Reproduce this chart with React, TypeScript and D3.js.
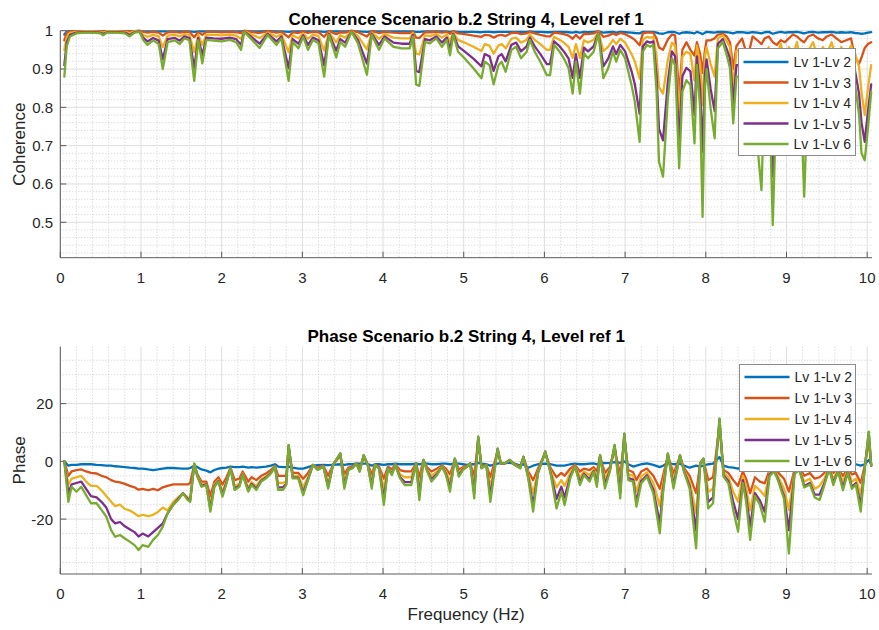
import React from 'react';
import * as d3 from 'd3';

const width = 879;
const height = 630;

// ---- coherence panel data ----
const cohFreq = [
  0.05, 0.08, 0.12, 0.2, 0.3, 0.4, 0.5, 0.53, 0.58, 0.7,
  0.8, 0.86, 0.92, 0.98, 1.03, 1.08, 1.15, 1.22, 1.27, 1.33,
  1.42, 1.48, 1.54, 1.6, 1.66, 1.71, 1.76, 1.81, 1.9, 2.0,
  2.1, 2.18, 2.24, 2.28, 2.36, 2.47, 2.57, 2.68, 2.74, 2.83,
  2.88, 2.95, 3.01, 3.07, 3.13, 3.2, 3.27, 3.33, 3.42, 3.47,
  3.53, 3.61, 3.69, 3.8, 3.86, 3.95, 4.02, 4.13, 4.23, 4.33,
  4.37, 4.41, 4.45, 4.52, 4.58, 4.66, 4.73, 4.79, 4.83, 4.87,
  4.93, 5.01, 5.12, 5.22, 5.26, 5.32, 5.37, 5.43, 5.47, 5.52,
  5.59, 5.65, 5.71, 5.78, 5.82, 5.88, 5.95, 6.03, 6.07, 6.12,
  6.19, 6.24, 6.3, 6.35, 6.39, 6.44, 6.49, 6.54, 6.61, 6.67,
  6.73, 6.79, 6.85, 6.89, 6.94, 7.0, 7.08, 7.12, 7.18, 7.22,
  7.27, 7.31, 7.35, 7.39, 7.42, 7.47, 7.53, 7.58, 7.62, 7.67,
  7.71, 7.76, 7.81, 7.86, 7.89, 7.93, 7.96, 7.99, 8.01, 8.06,
  8.11, 8.15, 8.21, 8.26, 8.3, 8.34, 8.38, 8.45, 8.52, 8.58,
  8.64, 8.69, 8.73, 8.78, 8.83, 8.88, 8.93, 8.98, 9.03, 9.08,
  9.13, 9.18, 9.22, 9.27, 9.33, 9.39, 9.45, 9.5, 9.56, 9.62,
  9.68, 9.74, 9.8, 9.85, 9.9, 9.93, 9.97, 10.01, 10.05,
];

const cohLv2 = [
  0.99, 0.998, 0.999, 0.999, 0.999, 0.999, 0.999, 0.999, 0.999, 0.999,
  0.999, 0.999, 0.999, 0.999, 0.998, 0.998, 0.998, 0.998, 0.998, 0.998,
  0.998, 0.998, 0.998, 0.998, 0.997, 0.998, 0.998, 0.998, 0.998, 0.998,
  0.998, 0.998, 0.998, 0.999, 0.998, 0.998, 0.999, 0.998, 0.998, 0.997,
  0.998, 0.998, 0.998, 0.998, 0.998, 0.998, 0.997, 0.998, 0.998, 0.998,
  0.998, 0.999, 0.998, 0.997, 0.998, 0.998, 0.998, 0.998, 0.998, 0.998,
  0.998, 0.997, 0.997, 0.998, 0.998, 0.998, 0.998, 0.998, 0.997, 0.998,
  0.997, 0.997, 0.997, 0.996, 0.997, 0.997, 0.996, 0.997, 0.997, 0.997,
  0.997, 0.997, 0.997, 0.997, 0.998, 0.997, 0.997, 0.996, 0.996, 0.997,
  0.997, 0.997, 0.996, 0.995, 0.997, 0.995, 0.997, 0.996, 0.997, 0.998,
  0.995, 0.996, 0.997, 0.995, 0.997, 0.996, 0.995, 0.994, 0.993, 0.997,
  0.997, 0.997, 0.997, 0.995, 0.993, 0.992, 0.996, 0.997, 0.996, 0.992,
  0.995, 0.996, 0.995, 0.993, 0.997, 0.994, 0.991, 0.995, 0.997, 0.996,
  0.995, 0.997, 0.997, 0.996, 0.995, 0.993, 0.996, 0.996, 0.994, 0.996,
  0.995, 0.993, 0.996, 0.997, 0.992, 0.995, 0.997, 0.995, 0.996, 0.996,
  0.997, 0.995, 0.993, 0.996, 0.997, 0.995, 0.996, 0.996, 0.997, 0.995,
  0.996, 0.995, 0.996, 0.994, 0.993, 0.992, 0.993, 0.995, 0.996,
];

const cohLv3 = [
  0.975, 0.995, 0.998, 0.999, 0.999, 0.999, 0.999, 0.998, 0.999, 0.999,
  0.999, 0.998, 0.999, 1.0, 0.997, 0.995, 0.997, 0.995, 0.987, 0.996,
  0.997, 0.995, 0.997, 0.997, 0.983, 0.997, 0.989, 0.997, 0.997, 0.996,
  0.997, 0.996, 0.994, 1.0, 0.997, 0.994, 0.999, 0.995, 0.997, 0.983,
  0.996, 0.994, 0.998, 0.994, 0.997, 0.996, 0.984, 0.999, 0.991, 0.996,
  0.995, 1.0, 0.996, 0.985, 0.999, 0.994, 0.997, 0.995, 0.994, 0.994,
  0.998, 0.982, 0.981, 0.996, 0.996, 0.997, 0.995, 0.997, 0.992, 0.999,
  0.993, 0.991, 0.987, 0.984, 0.989, 0.988, 0.982, 0.988, 0.989, 0.986,
  0.994, 0.995, 0.991, 0.993, 0.997, 0.993, 0.989, 0.985, 0.985, 0.995,
  0.993, 0.991, 0.987, 0.979, 0.989, 0.979, 0.992, 0.991, 0.993, 0.999,
  0.984, 0.987, 0.993, 0.989, 0.994, 0.991, 0.982, 0.976, 0.962, 0.993,
  0.995, 0.995, 0.995, 0.979, 0.956, 0.95, 0.977, 0.99, 0.988, 0.83,
  0.95, 0.97, 0.95, 0.935, 0.97, 0.94, 0.89, 0.95, 0.975, 0.975,
  0.98, 0.99, 0.992, 0.985, 0.97, 0.9, 0.96, 0.98, 0.93, 0.985,
  0.975, 0.965, 0.98, 0.985, 0.97, 0.963, 0.975, 0.97, 0.98, 0.99,
  0.985, 0.975, 0.97, 0.985, 0.99, 0.98, 0.975, 0.985, 0.99, 0.98,
  0.97, 0.975, 0.98, 0.93, 0.914, 0.93, 0.955, 0.965, 0.97,
];

const cohLv4 = [
  0.95, 0.983, 0.994, 0.997, 0.998, 0.998, 0.997, 0.995, 0.998, 0.998,
  0.997, 0.994, 0.998, 0.999, 0.989, 0.984, 0.989, 0.985, 0.957, 0.987,
  0.989, 0.985, 0.991, 0.989, 0.944, 0.989, 0.963, 0.99, 0.989, 0.988,
  0.99, 0.987, 0.979, 0.999, 0.991, 0.981, 0.995, 0.984, 0.991, 0.944,
  0.988, 0.98, 0.993, 0.979, 0.99, 0.986, 0.948, 0.995, 0.97, 0.988,
  0.982, 0.999, 0.986, 0.951, 0.995, 0.979, 0.991, 0.982, 0.98, 0.98,
  0.994, 0.94, 0.938, 0.988, 0.986, 0.991, 0.982, 0.99, 0.972, 0.995,
  0.976, 0.969, 0.958, 0.947, 0.965, 0.961, 0.94, 0.961, 0.965, 0.954,
  0.979, 0.982, 0.969, 0.976, 0.99, 0.976, 0.965, 0.95, 0.95, 0.984,
  0.976, 0.969, 0.958, 0.929, 0.965, 0.929, 0.975, 0.969, 0.976, 0.997,
  0.947, 0.958, 0.976, 0.965, 0.979, 0.969, 0.939, 0.92, 0.875, 0.976,
  0.984, 0.982, 0.984, 0.932, 0.853, 0.836, 0.924, 0.969, 0.961, 0.78,
  0.932, 0.945, 0.939, 0.87, 0.961, 0.913, 0.806, 0.935, 0.957, 0.913,
  0.88, 0.98, 0.988, 0.972, 0.958, 0.85, 0.948, 0.948, 0.914, 0.94,
  0.87, 0.82, 0.935, 0.957, 0.78, 0.935, 0.966, 0.914, 0.957, 0.935,
  0.97, 0.914, 0.814, 0.948, 0.97, 0.927, 0.957, 0.94, 0.97, 0.923,
  0.957, 0.935, 0.961, 0.94, 0.905, 0.84, 0.78, 0.85, 0.91,
];

const cohLv5 = [
  0.91, 0.97, 0.989, 0.995, 0.996, 0.996, 0.995, 0.991, 0.996, 0.996,
  0.995, 0.989, 0.996, 0.998, 0.981, 0.972, 0.981, 0.974, 0.925, 0.978,
  0.981, 0.974, 0.985, 0.981, 0.902, 0.981, 0.936, 0.982, 0.98, 0.979,
  0.982, 0.978, 0.963, 0.998, 0.985, 0.966, 0.992, 0.972, 0.985, 0.902,
  0.978, 0.966, 0.988, 0.963, 0.982, 0.975, 0.91, 0.992, 0.948, 0.978,
  0.969, 0.998, 0.975, 0.914, 0.992, 0.963, 0.985, 0.969, 0.966, 0.966,
  0.989, 0.895, 0.892, 0.978, 0.975, 0.985, 0.969, 0.982, 0.952, 0.992,
  0.959, 0.946, 0.927, 0.907, 0.939, 0.933, 0.895, 0.933, 0.939, 0.92,
  0.963, 0.969, 0.946, 0.959, 0.982, 0.959, 0.939, 0.913, 0.913, 0.972,
  0.959, 0.946, 0.927, 0.877, 0.939, 0.877, 0.956, 0.946, 0.959, 0.995,
  0.907, 0.927, 0.959, 0.939, 0.963, 0.946, 0.894, 0.861, 0.783, 0.959,
  0.972, 0.969, 0.972, 0.881, 0.744, 0.714, 0.867, 0.946, 0.933, 0.71,
  0.881, 0.903, 0.894, 0.78, 0.933, 0.848, 0.684, 0.888, 0.925, 0.848,
  0.79, 0.966, 0.978, 0.952, 0.927, 0.81, 0.91, 0.91, 0.85, 0.895,
  0.775, 0.69, 0.888, 0.925, 0.62, 0.888, 0.94, 0.85, 0.925, 0.888,
  0.948, 0.85, 0.675, 0.91, 0.948, 0.873, 0.925, 0.895, 0.948, 0.865,
  0.925, 0.888, 0.933, 0.895, 0.835, 0.76, 0.71, 0.79, 0.86,
];

const cohLv6 = [
  0.88, 0.96, 0.985, 0.993, 0.995, 0.995, 0.993, 0.988, 0.995, 0.995,
  0.993, 0.985, 0.995, 0.997, 0.975, 0.963, 0.975, 0.965, 0.9, 0.97,
  0.975, 0.965, 0.98, 0.975, 0.869, 0.975, 0.915, 0.976, 0.974, 0.972,
  0.976, 0.97, 0.95, 0.997, 0.98, 0.955, 0.989, 0.963, 0.98, 0.869,
  0.971, 0.954, 0.984, 0.95, 0.976, 0.967, 0.88, 0.989, 0.93, 0.971,
  0.958, 0.997, 0.967, 0.885, 0.989, 0.95, 0.98, 0.958, 0.954, 0.954,
  0.985, 0.86, 0.856, 0.971, 0.967, 0.98, 0.958, 0.976, 0.936, 0.989,
  0.945, 0.928, 0.902, 0.876, 0.919, 0.91, 0.86, 0.91, 0.919, 0.893,
  0.95, 0.958, 0.928, 0.945, 0.976, 0.945, 0.919, 0.884, 0.884, 0.963,
  0.945, 0.928, 0.902, 0.836, 0.919, 0.836, 0.941, 0.928, 0.945, 0.993,
  0.876, 0.902, 0.945, 0.919, 0.95, 0.928, 0.858, 0.815, 0.71, 0.945,
  0.963, 0.958, 0.963, 0.841, 0.658, 0.619, 0.823, 0.928, 0.91, 0.641,
  0.841, 0.871, 0.858, 0.706, 0.91, 0.797, 0.514, 0.85, 0.9, 0.797,
  0.719, 0.954, 0.971, 0.936, 0.902, 0.758, 0.88, 0.88, 0.8, 0.86,
  0.7, 0.584, 0.85, 0.9, 0.493, 0.85, 0.92, 0.8, 0.9, 0.85,
  0.93, 0.8, 0.567, 0.88, 0.93, 0.83, 0.9, 0.86, 0.93, 0.82,
  0.9, 0.85, 0.91, 0.86, 0.78, 0.68, 0.662, 0.745, 0.84,
];

// ---- phase panel data ----
const phaseFreq = [
  0.05, 0.1, 0.14, 0.2, 0.26, 0.32, 0.38, 0.45, 0.51, 0.57,
  0.63, 0.68, 0.74, 0.8, 0.86, 0.92, 0.97, 1.02, 1.09, 1.15,
  1.21, 1.27, 1.33, 1.4, 1.46, 1.52, 1.58, 1.61, 1.66, 1.7,
  1.75, 1.81, 1.86, 1.91, 1.96, 2.01, 2.06, 2.11, 2.16, 2.22,
  2.26, 2.33, 2.37, 2.43, 2.49, 2.55, 2.61, 2.66, 2.7, 2.76,
  2.8, 2.83, 2.88, 2.95, 3.01, 3.07, 3.13, 3.19, 3.26, 3.32,
  3.38, 3.47, 3.52, 3.57, 3.62, 3.67, 3.71, 3.76, 3.81, 3.86,
  3.9, 3.95, 4.01, 4.06, 4.11, 4.15, 4.21, 4.27, 4.35, 4.41,
  4.45, 4.5, 4.55, 4.6, 4.67, 4.73, 4.78, 4.83, 4.89, 4.94,
  4.99, 5.04, 5.08, 5.13, 5.18, 5.22, 5.28, 5.33, 5.42, 5.46,
  5.51, 5.57, 5.63, 5.7, 5.74, 5.8, 5.86, 5.92, 6.01, 6.08,
  6.15, 6.21, 6.25, 6.32, 6.38, 6.44, 6.49, 6.56, 6.61, 6.65,
  6.69, 6.75, 6.81, 6.87, 6.94, 6.99, 7.04, 7.1, 7.14, 7.2,
  7.27, 7.35, 7.43, 7.47, 7.53, 7.6, 7.68, 7.73, 7.8, 7.88,
  7.93, 7.97, 8.03, 8.09, 8.17, 8.22, 8.28, 8.34, 8.4, 8.46,
  8.5, 8.55, 8.61, 8.67, 8.73, 8.79, 8.85, 8.9, 8.97, 9.03,
  9.1, 9.16, 9.22, 9.29, 9.35, 9.41, 9.47, 9.53, 9.58, 9.64,
  9.7, 9.76, 9.81, 9.86, 9.92, 9.97, 10.02, 10.05,
];

const phaseLv2 = [
  0, -1.5, -1.2, -1.2, -1, -1, -1, -1.2, -1.3, -1.5,
  -1.5, -1.7, -1.8, -2, -2.2, -2.3, -2.5, -2.5, -2.8, -3,
  -2.8, -2.5, -2.3, -2.3, -2.4, -2.5, -2.5, -2.3, -1.5, -2,
  -2.8, -3.2, -3.8, -3, -2.5, -2.3, -2.2, -1.8, -2, -2,
  -1.8, -2.2, -2, -2.2, -2, -1.8, -1.5, -1, -1.8, -2,
  -2, -1.8, -2.2, -2.5, -2.5, -2, -1.5, -1.3, -1.2, -1.3,
  -1.2, -1, -1.2, -1, -1, -0.8, -0.8, -0.8, -0.8, -1.5,
  -1, -1, -1.2, -1, -1, -0.8, -1, -1, -1, -0.8,
  -1, -0.8, -0.8, -1, -1, -0.8, -0.8, -1, -0.8, -0.8,
  -1, -1.2, -1, -1, -0.5, -0.8, -1, -1.5, -0.8, -0.6,
  -0.6, -0.5, -0.8, -1.5, -1, -2.2, -1.5, -1, -0.8, -1,
  -1.5, -1.5, -1.5, -1, -0.8, -1, -1, -0.8, -0.7, -1,
  -0.5, -0.6, -0.5, -0.3, -0.5, 0, -1, -1.8, -1.5, -1,
  -0.7, -1.2, -2, -1.5, -0.5, -1, -0.8, -1.5, -2.2, -1.5,
  -1.8, -1.5, -1, -0.8, 1.5, -1.5, -2, -2.2, -2.5, -2,
  -2.2, -2.5, -2, -2.3, -2.5, -1.5, -1.8, -2, -2.2, -2.5,
  -1.8, -1.5, -2, -2, -1.8, -2, -1.5, -1, -1.5, -1.8,
  -2, -1.5, -1.2, -1, -1.5, -1, 0.5, -1,
];

const phaseLv3 = [
  0, -5, -3.5, -3, -2.8, -3.5, -4, -4.2, -5, -5.5,
  -6.5, -7, -7.3, -7.8, -8.5, -9, -9.8, -9.5, -10, -9.5,
  -10, -9, -8.5, -8, -8, -8, -8, -7.5, -1, -4.5,
  -7, -7, -12, -7, -5.5, -8, -5.5, -2.2, -6.5, -6,
  -3.5, -7, -5.5, -6.5, -5, -4.2, -3, -1.5, -5, -5,
  -5, 4.5, -4, -4, -6, -4, -1.3, -2.2, -1.5, -5,
  -1.2, 2, -4.5, -2.2, -1.8, -0.7, -2.3, 1.5, -1, -4.5,
  -1.1, -1.8, -6, -1.8, -2.8, -1, -3, -3.5, -3.5, -0.7,
  -5.5, 0.4, -2.2, -3.5, -2.5, -1.4, -2.5, -4.5, 0.6, -2.8,
  -2, -1.5, -0.8, -5, 7.5, -1.8, -1.1, -5.5, 3.5, -0.7,
  -0.7, 0.4, -1, -1.8, 1.3, -3.5, -6.5, -2.5, 2.8, -2.5,
  -5.5, -4, -5, -2.5, -1.2, -3.5, -2.5, -3, -2, -3.5,
  1.5, -4, -2, 4.5, -5, 8, -3, -3.8, -6.5, -3.5,
  -2.5, -5, -9.5, -5, 2, -4.2, 1.5, -2.3, -5, -11,
  -1, 0.5, -6.5, -5.5, 12, -3, -4, -6.5, -8.5, -3.5,
  -6, -11, -5.5, -7, -7.6, -3, -2.5, -4, -6, -10.5,
  -2.8, -2, -5, -4, -6, -5.5, -4, -1.5, -4, -2.5,
  -5, -2.5, -4.5, -4, -7.5, -1.5, 7, -1.5,
];

const phaseLv4 = [
  0, -8, -6, -5.5, -5, -7, -8.5, -8.5, -10, -12,
  -14, -15.5, -15, -16.5, -17, -18, -19, -18.5, -19, -18.5,
  -17.5, -16, -17, -14, -12.5, -11, -12.5, -13, -1, -5,
  -8, -7.8, -15, -8, -6.5, -10.5, -6.8, -2.3, -8.5, -7.8,
  -4.2, -9.2, -7.2, -8.6, -6.2, -5.2, -3.7, -1.7, -7.5, -7.5,
  -7, 5, -5, -5, -9, -5.5, -1.2, -2.7, -1.7, -7.5,
  -1.2, 2.5, -7, -2.7, -2.2, -0.7, -3, 2, -1.1, -6.8,
  -1.2, -2.2, -9.5, -2.2, -3.8, -1.1, -4.5, -5.5, -5.5, -0.7,
  -9, 0.5, -3, -5, -3.6, -1.6, -3.6, -7, 0.8, -4,
  -2.5, -1.7, -0.7, -8.5, 8, -2.2, -1.2, -9, 4, -0.7,
  -0.7, 0.5, -1.1, -2.2, 1.5, -4.5, -11, -3.4, 3.2, -3.5,
  -9, -6.5, -8.5, -4, -1.5, -5.5, -3.5, -4.8, -2.8, -6,
  1.9, -6, -2.8, 5, -8, 9, -4.5, -5, -10.5, -5.2,
  -3.8, -7.5, -15.5, -7.5, 2.4, -6.5, 1.9, -3, -7, -18,
  -0.8, 0.8, -10.5, -9.5, 13.5, -4, -5.5, -10.5, -14, -5,
  -9, -17, -8.5, -10, -12, -4, -3, -5.5, -9.5, -16.8,
  -3.5, -2.5, -7, -6, -9.5, -8.5, -6, -2, -6, -3,
  -7, -3, -7, -6, -11.5, -2, 9, -1.5,
];

const phaseLv5 = [
  0, -11, -8, -7.5, -7, -9.5, -12, -12.5, -14, -16,
  -20, -21.5, -21, -22.5, -23.5, -24.5, -26, -25, -26, -24.5,
  -23, -21.5, -18, -15, -13, -11, -13, -13.5, -1, -5.2,
  -8.5, -8, -16.5, -8.5, -6.8, -11.5, -7.2, -2.4, -9.4, -8.4,
  -4.5, -10, -7.8, -9.4, -6.7, -5.6, -4, -1.8, -9, -9,
  -7.8, 5.5, -5.6, -5.6, -10.8, -6.2, -1.2, -2.9, -1.8, -8.8,
  -1.2, 2.7, -8.6, -2.9, -2.3, -0.7, -3.4, 2.1, -1.2, -8.5,
  -1.2, -2.3, -13, -2.3, -4.4, -1.2, -5.4, -7.2, -7.2, -0.7,
  -11.8, 0.5, -3.4, -6.2, -4.3, -1.7, -4.3, -9.2, 0.9, -4.8,
  -2.8, -1.8, -0.7, -11, 8.4, -2.3, -1.2, -12, 4.3, -0.7,
  -0.7, 0.5, -1.2, -2.3, 1.6, -5.5, -15, -4, 3.4, -4.3,
  -13, -8.8, -12.5, -5.2, -1.7, -7.2, -4.3, -6.2, -3.3, -7.8,
  2.1, -8, -3.3, 5.5, -11, 9.5, -5.8, -6.3, -14, -6.8,
  -4.8, -9.8, -21.5, -9.8, 2.6, -8.3, 2.1, -3.4, -8.5, -24,
  -0.7, 0.9, -14, -12.5, 14.5, -4.8, -6.8, -14, -20, -6.5,
  -12, -22.6, -11, -13.5, -17.5, -4.5, -3.3, -6.5, -12, -23.8,
  -4, -2.8, -8.5, -7.5, -11.5, -11.5, -7.5, -2.3, -7.5, -3.3,
  -9, -3.5, -8.8, -7.5, -15, -2.5, 10, -1.5,
];

const phaseLv6 = [
  0, -14, -8.8, -10.5, -8.8, -11.7, -14.5, -14.5, -16.8, -19.1,
  -23.8, -26.1, -25.5, -26.7, -27.8, -29, -30.7, -29, -29.6, -27.2,
  -25.5, -22.6, -18, -15.1, -13.4, -11.1, -13.4, -14, -0.7, -5.3,
  -8.8, -8.2, -17.4, -8.8, -7, -12.2, -7.6, -2.4, -9.9, -8.8,
  -4.7, -10.5, -8.2, -9.9, -7, -5.9, -4.2, -1.8, -9.9, -9.9,
  -8.2, 5.7, -5.9, -5.9, -11.7, -6.5, -1.2, -3, -1.8, -9.4,
  -1.2, 2.8, -9.4, -3, -2.4, -0.7, -3.6, 2.2, -1.2, -9.4,
  -1.2, -2.4, -15.1, -2.4, -4.7, -1.2, -5.9, -8.2, -8.2, -0.7,
  -13.4, 0.5, -3.6, -7, -4.7, -1.8, -4.7, -10.5, 1, -5.3,
  -3, -1.8, -0.7, -12.8, 8.6, -2.4, -1.2, -14, 4.5, -0.7,
  -0.7, 0.5, -1.2, -2.4, 1.6, -5.9, -17.4, -4.2, 3.4, -4.7,
  -16.3, -10.5, -15.1, -5.9, -1.8, -8.2, -4.7, -7, -3.6, -8.8,
  2.2, -9.4, -3.6, 5.7, -12.8, 9.7, -6.5, -7, -15.7, -7.6,
  -5.3, -11.1, -24.9, -11.1, 2.8, -9.4, 2.2, -3.6, -9.4, -30.1,
  -0.7, 1, -16.3, -14.5, 14.9, -5.3, -7.6, -16.8, -24.3, -7.5,
  -14, -27.2, -12, -15, -20.9, -5, -3.5, -7, -13, -31.9,
  -4.3, -3, -9, -8, -12.5, -13.4, -8.2, -2.5, -8.2, -3.5,
  -10, -4, -9.5, -8, -17.4, -2.5, 10.3, -1.5,
];

const seriesNames = ['Lv 1-Lv 2', 'Lv 1-Lv 3', 'Lv 1-Lv 4', 'Lv 1-Lv 5', 'Lv 1-Lv 6'];
const xTicks = [0, 1, 2, 3, 4, 5, 6, 7, 8, 9, 10];
const cohTicks = [0.5, 0.6, 0.7, 0.8, 0.9, 1];
const phaseTicks = [-20, 0, 20];

const colors = ['#0072BD', '#D95319', '#EDB120', '#7E2F8E', '#77AC30'];
const font = '"Liberation Sans", Arial, Helvetica, sans-serif';
const textColor = '#262626';
const axisColor = '#5a5a5a';

const left = 60.3;
const right = 872;
const x = d3.scaleLinear().domain([0, 10.06]).range([left, right]);

// minor grid every 0.2 Hz
const minorX = d3.range(1, 51).filter(i => i % 5 !== 0).map(i => i * 0.2);

function Legend({ bx, by, bw, bh, rowTop, rowGap }) {
  return (
    <g fontFamily={font} fontSize={14} fill={textColor}>
      <rect x={bx} y={by} width={bw} height={bh} fill="#fff" stroke="#8c8c8c" strokeWidth={1} />
      {seriesNames.map((name, i) => {
        const yy = rowTop + i * rowGap;
        return (
          <g key={name}>
            <line x1={bx + 5} x2={bx + 50} y1={yy} y2={yy} stroke={colors[i]} strokeWidth={2.4} />
            <text x={bx + 55} y={yy} dy="0.36em">{name}</text>
          </g>
        );
      })}
    </g>
  );
}

function Panel({ id, top, bottom, yDomain, yTicks, minorY, freq, series, title, titleY, ylabel, fmt, legend }) {
  const y = d3.scaleLinear().domain(yDomain).range([bottom, top]);
  const line = d3.line<number>()
    .x((d, i) => x(freq[i]))
    .y(d => y(d));
  const midY = (top + bottom) / 2;

  return (
    <g>
      <defs>
        <clipPath id={id}>
          <rect x={left} y={top - 2} width={right - left + 2} height={bottom - top + 2} />
        </clipPath>
      </defs>

      {/* minor grid */}
      {minorX.map(v => (
        <line key={'mx' + v} x1={x(v)} x2={x(v)} y1={top} y2={bottom}
          stroke="#cfcfcf" strokeWidth={1} strokeDasharray="1 2" />
      ))}
      {minorY.map(v => (
        <line key={'my' + v} x1={left} x2={right} y1={y(v)} y2={y(v)}
          stroke="#cfcfcf" strokeWidth={1} strokeDasharray="1 2" />
      ))}
      {/* major grid */}
      {xTicks.map(v => (
        <line key={'gx' + v} x1={x(v)} x2={x(v)} y1={top} y2={bottom} stroke="#dedede" strokeWidth={1} />
      ))}
      {yTicks.map(v => (
        <line key={'gy' + v} x1={left} x2={right} y1={y(v)} y2={y(v)} stroke="#dedede" strokeWidth={1} />
      ))}

      {/* axes */}
      <line x1={left} x2={left} y1={top} y2={bottom} stroke={axisColor} strokeWidth={1} />
      <line x1={left} x2={right} y1={bottom} y2={bottom} stroke={axisColor} strokeWidth={1} />
      {xTicks.map(v => (
        <line key={'tx' + v} x1={x(v)} x2={x(v)} y1={bottom} y2={bottom - 6} stroke={axisColor} />
      ))}
      {yTicks.map(v => (
        <line key={'ty' + v} x1={left} x2={left + 6} y1={y(v)} y2={y(v)} stroke={axisColor} />
      ))}

      {/* series */}
      <g clipPath={`url(#${id})`}>
        {series.map((s, i) => (
          <path key={i} d={line(s)} fill="none" stroke={colors[i]} strokeWidth={2.3}
            strokeLinejoin="round" strokeLinecap="round" />
        ))}
      </g>

      {/* labels */}
      <g fontFamily={font} fontSize={15} fill={textColor}>
        {xTicks.map(v => (
          <text key={'lx' + v} x={x(v)} y={bottom + 25} textAnchor="middle">{v}</text>
        ))}
        {yTicks.map(v => (
          <text key={'ly' + v} x={53} y={y(v)} dy="0.36em" textAnchor="end">{fmt(v)}</text>
        ))}
      </g>
      <text x={(left + right) / 2} y={titleY} textAnchor="middle" fontFamily={font}
        fontSize={17} fontWeight="bold" fill="#000">{title}</text>
      <text transform={`translate(25,${midY}) rotate(-90)`} textAnchor="middle"
        fontFamily={font} fontSize={17} fill={textColor}>{ylabel}</text>

      <Legend {...legend} />
    </g>
  );
}

export default function App() {
  const cohMinor = d3.range(21, 50).filter(i => i % 5 !== 0).map(i => i / 50);
  const phaseMinor = d3.range(-7, 8).filter(i => i % 4 !== 0).map(i => i * 5);

  return (
    <svg width={width} height={height} style={{ position: 'absolute', left: 0, top: 0, background: '#fff' }}>
      <rect width={width} height={height} fill="#fff" />
      <Panel
        id="clipCoh"
        top={30.7}
        bottom={257.7}
        yDomain={[0.4076, 1]}
        yTicks={cohTicks}
        minorY={cohMinor}
        freq={cohFreq}
        series={[cohLv2, cohLv3, cohLv4, cohLv5, cohLv6]}
        title="Coherence Scenario b.2 String 4, Level ref 1"
        titleY={25}
        ylabel="Coherence"
        fmt={v => d3.format('~g')(v)}
        legend={{ bx: 738.5, by: 48.5, bw: 117, bh: 107, rowTop: 62, rowGap: 20.5 }}
      />
      <Panel
        id="clipPhase"
        top={346.7}
        bottom={574}
        yDomain={[-39, 39.7]}
        yTicks={phaseTicks}
        minorY={phaseMinor}
        freq={phaseFreq}
        series={[phaseLv2, phaseLv3, phaseLv4, phaseLv5, phaseLv6]}
        title="Phase Scenario b.2 String 4, Level ref 1"
        titleY={341.5}
        ylabel="Phase"
        fmt={v => String(v)}
        legend={{ bx: 739.5, by: 364.5, bw: 116, bh: 107, rowTop: 377, rowGap: 21 }}
      />
      <text x={(left + right) / 2} y={620} textAnchor="middle" fontFamily={font}
        fontSize={17} fill={textColor}>Frequency (Hz)</text>
    </svg>
  );
}
